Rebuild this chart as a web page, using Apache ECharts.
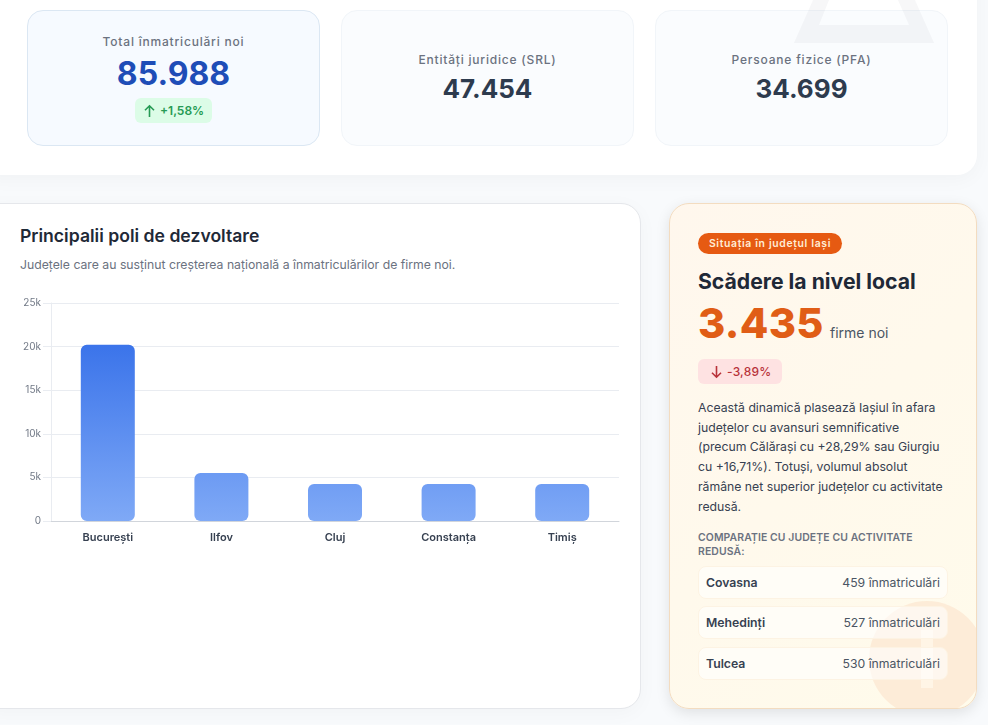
<!DOCTYPE html>
<html lang="ro"><head><meta charset="utf-8">
<script src="https://cdn.jsdelivr.net/npm/echarts@6/dist/echarts.min.js"></script>
<style>
html,body{margin:0;padding:0;width:988px;height:725px;overflow:hidden;background:#f8fafc;font-family:Inter,"Noto Sans",sans-serif;}
.abs,.abs *{box-sizing:border-box}
.abs{position:absolute}
.panel{left:-20px;top:-40px;width:997px;height:215px;background:#fff;border-radius:0 0 20px 20px;box-shadow:0 4px 20px rgba(0,0,0,.035);overflow:hidden}
.kpi{top:10px;width:293px;height:136px;border-radius:16px;background:#fafcfe;border:1px solid #f1f5f9;text-align:center}
.kpi.main{background:#f6faff;border-color:#dbe7f3}
.kl{position:absolute;left:0;right:0;font-size:12px;font-weight:500;letter-spacing:.8px;color:#6b7280;white-space:nowrap}
.kv{position:absolute;left:0;right:0;font-weight:700;white-space:nowrap}
.up{left:135px;top:98px;width:77px;height:25px;border-radius:6px;background:#dcfce7;color:#259a54;font-size:12px;font-weight:600;line-height:25px;padding-left:25px;white-space:nowrap}
.card{left:-20px;top:203px;width:661px;height:506px;background:#fff;border:1px solid #e5e7eb;border-radius:20px;box-shadow:0 4px 20px rgba(0,0,0,.03)}
.side{left:669px;top:203px;width:308px;height:506px;border-radius:20px;border:1px solid #f3dcc0;background:linear-gradient(135deg,#fff7ed,#fffbeb);box-shadow:0 4px 14px rgba(0,0,0,.10);overflow:hidden}
.t{position:absolute;white-space:nowrap}
.row{position:absolute;left:28px;width:250px;height:33px;background:rgba(255,255,255,.6);border:1px solid #fdf3e3;border-radius:8px;font-size:12.24px;line-height:31px;padding:0 7px}
.row b{font-weight:600;color:#374151}.row span{float:right;color:#4b5563}
</style></head><body>
<div class="abs panel"></div>
<div class="abs kpi main" style="left:27px"><div class="kl" style="top:23px">Total înmatriculări noi</div><div class="kv" style="top:43px;font-size:32px;color:#1e4db7">85.988</div></div>
<div class="abs up"><svg style="position:absolute;left:8px;top:6px" width="13" height="14" viewBox="0 0 13 14"><path d="M6.5 13V2M2 6.2L6.5 1.8L11 6.2" fill="none" stroke="#259a54" stroke-width="1.6"/></svg>+1,58%</div>
<div class="abs kpi" style="left:341px"><div class="kl" style="top:41px">Entități juridice (SRL)</div><div class="kv" style="top:62px;font-size:26px;color:#2d3b4e">47.454</div></div>
<div class="abs kpi" style="left:655px"><div class="kl" style="top:41px">Persoane fizice (PFA)</div><div class="kv" style="top:62px;font-size:26px;color:#2d3b4e">34.699</div></div>
<svg class="abs" style="left:0;top:0" width="988" height="50"><path fill="#1e293b" fill-opacity=".035" fill-rule="evenodd" d="M794 43L934 43L915 0L813 0ZM819 25L909 25L898 0L829 0Z"/></svg>

<div class="abs card"></div>
<div class="abs t" style="left:20px;top:225px;font-size:17.6px;font-weight:600;color:#1f2937">Principalii poli de dezvoltare</div>
<div class="abs t" style="left:20px;top:257px;font-size:12.24px;color:#6b7280">Județele care au susținut creșterea națională a înmatriculărilor de firme noi.</div>
<div class="abs" id="chart" style="left:0;top:290px;width:640px;height:270px"></div>

<div class="abs side">
  <div style="position:absolute;left:199px;top:397px;width:116px;height:116px;border-radius:50%;background:#fdecd8"></div>
  <div style="position:absolute;left:251px;top:426px;width:12px;height:58px;background:#fff5e6"></div>
  <div class="t" style="left:28px;top:29px;height:21px;width:144px;border-radius:11px;background:#e65a12;color:#ffedd5;font-size:10.4px;font-weight:600;line-height:21px;text-align:center;letter-spacing:.65px">Situația în județul Iași</div>
  <div class="t" style="left:28px;top:64px;font-size:21.2px;font-weight:700;color:#1f2937">Scădere la nivel local</div>
  <div class="t" style="left:28px;top:92px;font-size:41.6px;font-weight:800;color:#e05d16;line-height:54px;letter-spacing:.3px">3.435</div>
  <div class="t" style="left:160px;top:120px;font-size:14px;color:#4b5563">firme noi</div>
  <div class="t" style="left:28px;top:155px;width:84px;height:25px;border-radius:6px;background:#fee2e2;color:#b8323a;font-size:12px;font-weight:500;line-height:25px;padding-left:29px;letter-spacing:.2px"><svg style="position:absolute;left:12px;top:6px" width="13" height="14" viewBox="0 0 13 14"><path d="M6.5 1V12M2 7.8L6.5 12.2L11 7.8" fill="none" stroke="#b8323a" stroke-width="1.6"/></svg>-3,89%</div>
  <div class="t" style="left:28px;top:194px;font-size:12.24px;line-height:19.7px;color:#374151;white-space:normal;width:250px">Această dinamică plasează Iașiul în afara<br>județelor cu avansuri semnificative<br>(precum Călărași cu +28,29% sau Giurgiu<br>cu +16,71%). Totuși, volumul absolut<br>rămâne net superior județelor cu activitate<br>redusă.</div>
  <div class="t" style="left:28px;top:327px;font-size:10.4px;font-weight:600;line-height:14px;color:#6b7280;letter-spacing:.12px">COMPARAȚIE CU JUDEȚE CU ACTIVITATE<br>REDUSĂ:</div>
  <div class="row" style="top:362px"><b>Covasna</b><span>459 înmatriculări</span></div>
  <div class="row" style="top:402px"><b>Mehedinți</b><span>527 înmatriculări</span></div>
  <div class="row" style="top:443px"><b>Tulcea</b><span>530 înmatriculări</span></div>
</div>
<script>
const categories=["București","Ilfov","Cluj","Constanța","Timiș"];
const registrations=[20200,5500,4250,4250,4250];
const yTicks=[0,5000,10000,15000,20000,25000];
const chart=echarts.init(document.getElementById('chart'),null,{renderer:'canvas'});
chart.setOption({
  animation:false,
  grid:{left:51,right:21,top:13,bottom:39},
  xAxis:{type:'category',data:categories,
    axisLine:{lineStyle:{color:'#d1d5db',width:1}},axisTick:{show:false},
    axisLabel:{color:'#374151',fontFamily:'Inter',fontSize:11,fontWeight:600,margin:11}},
  yAxis:{type:'value',min:yTicks[0],max:yTicks[yTicks.length-1],interval:yTicks[1],
    axisLine:{show:true,lineStyle:{color:'#e9ecf1'}},axisTick:{show:true,length:8,lineStyle:{color:'#e9ecf1'}},
    splitLine:{lineStyle:{color:'#e9ecf1'}},
    axisLabel:{color:'#717986',fontFamily:'Inter',fontSize:10,margin:10,padding:[3,0,0,0],formatter:v=>v===0?'0':(v/1000)+'k'}},
  series:[{type:'bar',data:registrations,barWidth:54,
    itemStyle:{borderRadius:6,
      color:{type:'linear',global:true,x:0,y:55,x2:0,y2:231,colorStops:[{offset:0,color:'#3b74ea'},{offset:1,color:'#7fa9f6'}]}}}]
});
</script>
</body></html>
